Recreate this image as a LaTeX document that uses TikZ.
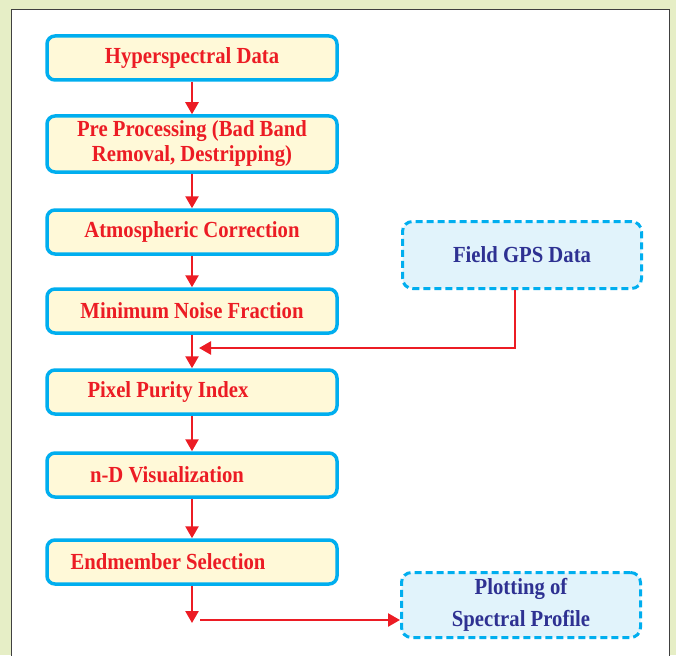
\documentclass[tikz,border=0pt]{standalone}
\usepackage{fontspec}
\setmainfont{Liberation Serif}
\newfontfamily\condserif[FakeStretch=0.9]{Liberation Serif}
\usetikzlibrary{arrows.meta}
\definecolor{bgout}{HTML}{E6EEC6}
\definecolor{cyanb}{HTML}{00AEEF}
\definecolor{yfill}{HTML}{FFF9D8}
\definecolor{bfill}{HTML}{E1F3FB}
\definecolor{redt}{HTML}{EC1C24}
\definecolor{bluet}{HTML}{2E3192}
\tikzset{
  procbox/.style={draw=cyanb, line width=3.5pt, fill=yfill, rounded corners=8pt,
    minimum width=290pt, minimum height=44pt, inner sep=0pt,
    font=\condserif\bfseries\fontsize{23}{25}\selectfont, text=redt, align=center},
  extbox/.style={draw=cyanb, line width=3pt, dash pattern=on 7pt off 4pt, fill=bfill, rounded corners=10pt,
    minimum width=239pt, minimum height=67pt, inner sep=0pt,
    font=\condserif\bfseries\fontsize{23}{32}\selectfont, text=bluet, align=center},
  flow/.style={draw=redt, line width=2.5pt, -{Triangle[length=12pt,width=13pt]}},
}
\begin{document}
\begin{tikzpicture}[x=1pt,y=-1pt]
\fill[bgout] (0,0) rectangle (676,655);
\useasboundingbox (0,0) rectangle (676,655);
\fill[white] (11,10) rectangle (669,660);
\draw[black!75, line width=1pt] (11,660) -- (11,10) -- (669,10) -- (669,660);
\node[procbox] (a) at (192,58) {Hyperspectral Data};
\node[procbox, minimum height=56pt] (b) at (192,144) {Pre Processing (Bad Band\\Removal, Destripping)};
\node[procbox] (c) at (192,232) {Atmospheric Correction};
\node[procbox] (d) at (192,311) {Minimum Noise Fraction};
\node[procbox] (e) at (192,392) {\hspace*{-48pt}Pixel Purity Index};
\node[procbox] (f) at (192,475) {\hspace*{-50pt}n-D Visualization};
\node[procbox] (g) at (192,562) {\hspace*{-48pt}Endmember Selection};
\node[extbox] (gps) at (522,255) {Field GPS Data};
\node[extbox, minimum height=65pt] (plot) at (521,605) {Plotting of\\Spectral Profile};
\coordinate (j1) at (192,348);
\coordinate (j2) at (192,620);
\draw[flow] (gps.south -| 515,0) |- ([xshift=7pt]j1);
\draw[flow] (a.south) -- (b.north);
\draw[flow] (b.south) -- (c.north);
\draw[flow] (c.south) -- (d.north);
\draw[flow] (d.south) -- (e.north);
\draw[flow] (e.south) -- (f.north);
\draw[flow] (f.south) -- (g.north);
\draw[flow] (g.south) -- ([yshift=-3pt]j2);
\draw[flow] ([xshift=8pt]j2) -- (plot.west |- j2);
\end{tikzpicture}
\end{document}
